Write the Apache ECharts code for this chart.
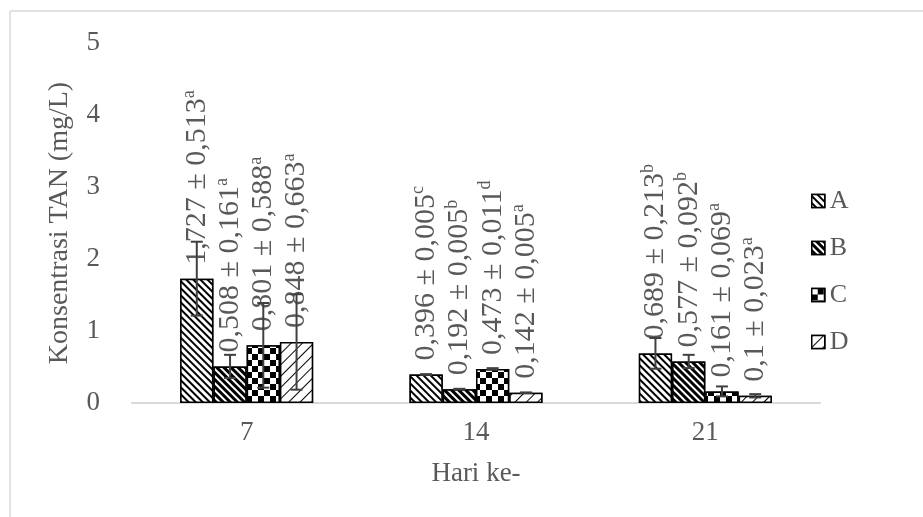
<!DOCTYPE html>
<html>
<head>
<meta charset="utf-8">
<script src="https://cdn.jsdelivr.net/npm/echarts@6/dist/echarts.min.js"></script>
<style>
  html, body { margin: 0; padding: 0; background: #fff; }
  #chart { width: 923px; height: 517px; }
</style>
</head>
<body>
<div id="chart"></div>
<script>
// data
var days = ['7', '14', '21'];
var groups = ['A', 'B', 'C', 'D'];
var meanA = [1.727, 0.396, 0.689];
var meanB = [0.508, 0.192, 0.577];
var meanC = [0.801, 0.473, 0.161];
var meanD = [0.848, 0.142, 0.1];
var sdA = [0.513, 0.005, 0.213];
var sdB = [0.161, 0.005, 0.092];
var sdC = [0.588, 0.011, 0.069];
var sdD = [0.663, 0.005, 0.023];
var letterA = ['a', 'c', 'b'];
var letterB = ['a', 'b', 'b'];
var letterC = ['a', 'd', 'a'];
var letterD = ['a', 'a', 'a'];

var means = [meanA, meanB, meanC, meanD];
var sds = [sdA, sdB, sdC, sdD];
var letters = [letterA, letterB, letterC, letterD];

var font = 'Liberation Serif';
var textColor = '#595959';
var catGap = 0.42;

var decals = [
    {symbol: 'rect', symbolSize: 1, dashArrayX: [1, 0], dashArrayY: [2, 3], rotation: Math.PI / 4, color: '#000', backgroundColor: '#fff'},
    {symbol: 'rect', symbolSize: 1, dashArrayX: [1, 0], dashArrayY: [3, 2], rotation: Math.PI / 4, color: '#000', backgroundColor: '#fff'},
    {symbol: 'rect', symbolSize: 1, dashArrayX: [[6, 6], [0, 6, 6, 0]], dashArrayY: [6, 0], rotation: 0, color: '#000', backgroundColor: '#fff'},
    {symbol: 'rect', symbolSize: 1, dashArrayX: [1, 0], dashArrayY: [1, 7], rotation: -Math.PI / 4, color: '#000', backgroundColor: '#fff'}
];

function fmt(v) {
    return String(v).replace('.', ',');
}

var series = [];
groups.forEach(function (name, i) {
    series.push({
        name: name,
        type: 'bar',
        barGap: 0,
        barCategoryGap: (catGap * 100) + '%',
        data: means[i],
        itemStyle: {
            color: '#fff',
            borderColor: '#000',
            borderWidth: 1.5,
            decal: decals[i]
        },
        label: {
            show: true,
            position: 'top',
            rotate: 90,
            align: 'left',
            verticalAlign: 'middle',
            distance: 14,
            formatter: function (p) {
                return '{v|' + fmt(p.value) + ' ± ' + fmt(sds[i][p.dataIndex]) + '}{s|' + letters[i][p.dataIndex] + '}';
            },
            rich: {
                v: {fontFamily: font, fontSize: 30, color: textColor},
                s: {fontFamily: font, fontSize: 18, color: textColor, verticalAlign: 'top', padding: [0, 0, 15, 0]}
            }
        },
        z: 2
    });
});

// error bars
series.push({
    type: 'custom',
    name: 'err',
    z: 5,
    data: (function () {
        var out = [];
        for (var g = 0; g < groups.length; g++) {
            for (var d = 0; d < days.length; d++) {
                out.push([d, means[g][d] - sds[g][d], means[g][d] + sds[g][d], g]);
            }
        }
        return out;
    })(),
    renderItem: function (params, api) {
        var d = api.value(0);
        var g = api.value(3);
        var catW = api.size([1, 0])[0];
        var groupW = catW * (1 - catGap);
        var barW = groupW / groups.length;
        var lo = api.coord([d, Math.max(api.value(1), 0)]);
        var hi = api.coord([d, api.value(2)]);
        var x = lo[0] - groupW / 2 + barW * (g + 0.5);
        var cap = 6;
        var style = {stroke: '#404040', lineWidth: 2};
        return {
            type: 'group',
            children: [
                {type: 'line', shape: {x1: x, y1: lo[1], x2: x, y2: hi[1]}, style: style},
                {type: 'line', shape: {x1: x - cap, y1: lo[1], x2: x + cap, y2: lo[1]}, style: style},
                {type: 'line', shape: {x1: x - cap, y1: hi[1], x2: x + cap, y2: hi[1]}, style: style}
            ]
        };
    }
});

var myChart = echarts.init(document.getElementById('chart'));
var option = {
    backgroundColor: '#fff',
    animation: false,
    graphic: [
        {type: 'line', shape: {x1: 10, y1: 11, x2: 923, y2: 11}, style: {stroke: '#d9d9d9', lineWidth: 1.5}},
        {type: 'line', shape: {x1: 10, y1: 11, x2: 10, y2: 517}, style: {stroke: '#d9d9d9', lineWidth: 1.5}}
    ],
    grid: {left: 132, right: 103, top: 43, bottom: 114},
    legend: {
        data: groups,
        orient: 'vertical',
        left: 806,
        top: 183,
        icon: 'rect',
        itemWidth: 13,
        itemHeight: 13,
        itemGap: 21,
        itemStyle: {borderColor: '#000', borderWidth: 1.5},
        textStyle: {fontFamily: font, fontSize: 26, color: textColor, padding: [0, 0, 0, 0]}
    },
    xAxis: {
        type: 'category',
        data: days,
        name: 'Hari ke-',
        nameLocation: 'middle',
        nameGap: 57,
        nameTextStyle: {fontFamily: font, fontSize: 27, color: textColor},
        axisLine: {lineStyle: {color: '#d9d9d9', width: 2}},
        axisTick: {show: false},
        axisLabel: {fontFamily: font, fontSize: 27, color: textColor, margin: 16}
    },
    yAxis: {
        type: 'value',
        min: 0,
        max: 5,
        interval: 1,
        name: 'Konsentrasi TAN (mg/L)',
        nameLocation: 'middle',
        nameGap: 58,
        nameTextStyle: {fontFamily: font, fontSize: 28, color: textColor},
        splitLine: {show: false},
        axisLine: {show: false},
        axisTick: {show: false},
        axisLabel: {fontFamily: font, fontSize: 27, color: textColor, margin: 32}
    },
    series: series
};
myChart.setOption(option);
</script>
</body>
</html>
